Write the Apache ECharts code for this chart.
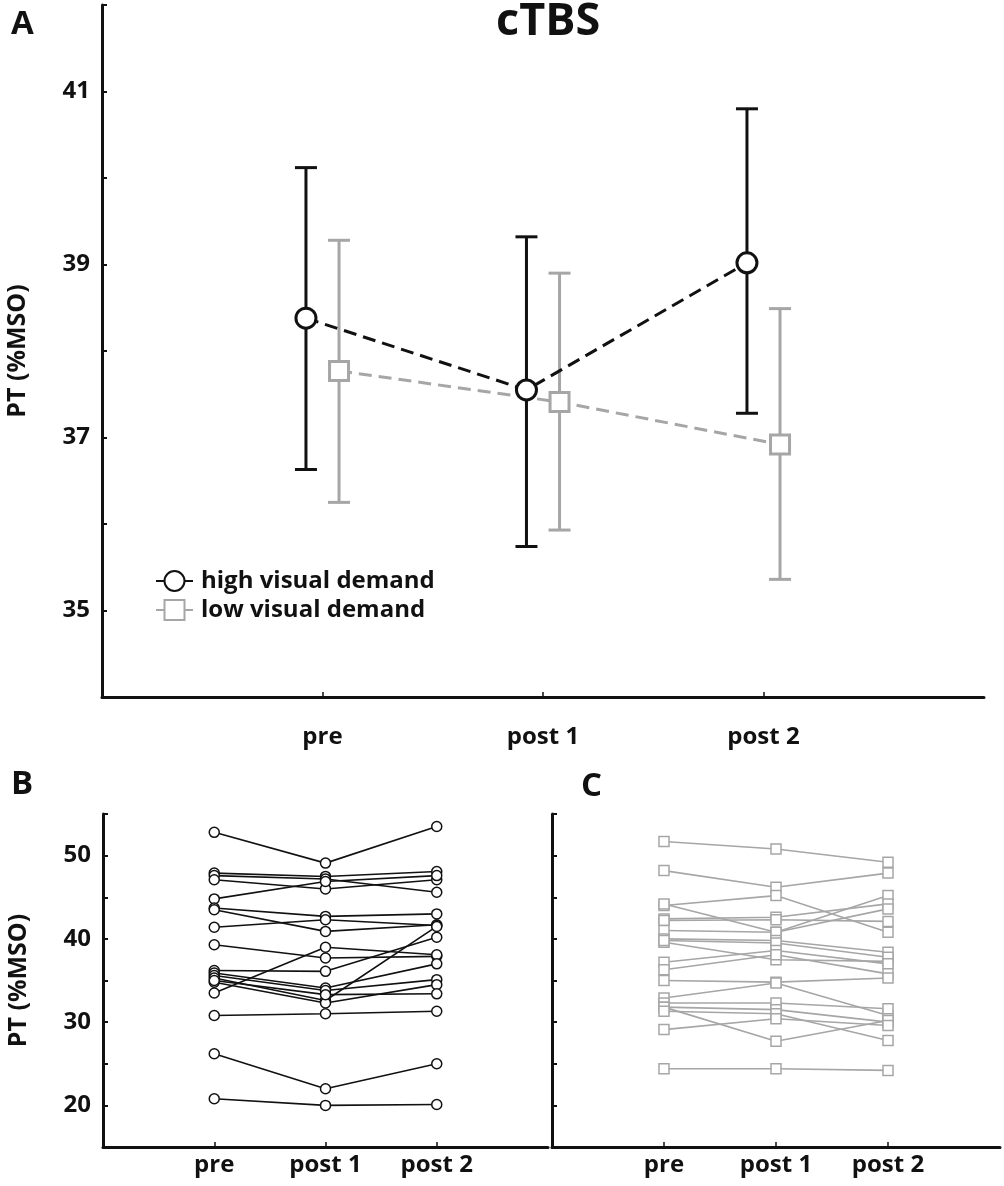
<!DOCTYPE html>
<html>
<head>
<meta charset="utf-8">
<script src="https://cdn.jsdelivr.net/npm/echarts@6/dist/echarts.min.js"></script>
<style>
html,body{margin:0;padding:0;background:#fff;}
#main{width:1004px;height:1186px;}
</style>
</head>
<body>
<div id="main"></div>
<script>
// ---------- data ----------
const categories = ['pre', 'post 1', 'post 2'];
const seriesNames = ['high visual demand', 'low visual demand'];

// Panel A: group means and error-bar ends (PT, %MSO)
const highMean  = [38.38, 37.55, 39.02];
const highUpper = [40.12, 39.32, 40.80];
const highLower = [36.63, 35.74, 37.28];
const lowMean   = [37.77, 37.41, 36.92];
const lowUpper  = [39.28, 38.90, 38.49];
const lowLower  = [36.25, 35.93, 35.36];

const aTickLabels = [35, 37, 39, 41];
const bcTickLabels = [20, 30, 40, 50];

// Panel B: individual subjects, high visual demand
const bPre   = [52.8, 47.9, 47.6, 47.1, 44.8, 43.7, 43.5, 41.4, 39.3, 33.5, 36.2, 35.9, 35.6, 35.3, 34.8, 35.0, 30.8, 26.2, 20.8];
const bPost1 = [49.1, 47.5, 47.2, 46.0, 46.9, 42.7, 40.9, 42.3, 37.7, 39.0, 36.1, 34.1, 33.8, 32.6, 32.3, 33.3, 31.0, 22.0, 20.0];
const bPost2 = [53.5, 48.1, 45.6, 47.1, 47.6, 43.0, 41.7, 41.6, 37.9, 38.1, 40.2, 37.0, 35.1, 41.5, 34.5, 33.4, 31.3, 25.0, 20.1];

// Panel C: individual subjects, low visual demand
const cPre   = [51.7, 48.2, 44.0, 44.2, 42.4, 42.2, 41.0, 40.0, 39.6, 39.8, 37.2, 36.3, 35.0, 32.9, 32.3, 31.8, 31.8, 31.3, 29.1, 24.4];
const cPost1 = [50.8, 46.2, 45.2, 40.8, 42.6, 42.3, 40.8, 39.8, 37.5, 39.5, 38.6, 38.1, 34.8, 34.7, 32.3, 31.5, 27.7, 31.0, 30.4, 24.4];
const cPost2 = [49.2, 47.9, 40.8, 45.2, 44.2, 42.1, 43.6, 38.4, 37.3, 37.8, 37.0, 35.8, 35.3, 30.8, 31.6, 30.0, 30.2, 27.8, 29.6, 24.2];

// ---------- styling ----------
const FONT = '"Open Sans", "Liberation Sans", sans-serif';
const BLACK = '#111111';
const GRAY = '#a6a6a6';
const OFFSET = 0.075;

function errRender(color, width) {
  return function (params, api) {
    const x = api.value(0), lo = api.value(1), hi = api.value(2);
    const p1 = api.coord([x, hi]);
    const p2 = api.coord([x, lo]);
    const half = 11;
    const st = {stroke: color, lineWidth: width};
    return {
      type: 'group',
      children: [
        {type: 'line', shape: {x1: p1[0], y1: p1[1], x2: p2[0], y2: p2[1]}, style: st},
        {type: 'line', shape: {x1: p1[0] - half, y1: p1[1], x2: p1[0] + half, y2: p1[1]}, style: st},
        {type: 'line', shape: {x1: p2[0] - half, y1: p2[1], x2: p2[0] + half, y2: p2[1]}, style: st}
      ]
    };
  };
}

const tickFont = {fontFamily: FONT, fontWeight: 'bold', fontSize: 24, color: BLACK};

function xAxisFor(gi, labelMargin) {
  return {
    gridIndex: gi, type: 'value', min: 0, max: 4, interval: 1,
    axisLine: {show: true, lineStyle: {color: BLACK, width: 3}},
    axisTick: {show: true, inside: true, length: 5, customValues: [1, 2, 3], lineStyle: {color: BLACK, width: 1.5}},
    axisLabel: Object.assign({customValues: [1, 2, 3], margin: labelMargin,
      formatter: v => categories[Math.round(v) - 1] || ''}, tickFont),
    splitLine: {show: false}
  };
}

function yAxisFor(gi, min, max, interval, labels, showLabels, name) {
  return {
    gridIndex: gi, type: 'value', min: min, max: max, interval: interval,
    name: name, nameLocation: 'middle', nameGap: 72, nameRotate: 90,
    nameTextStyle: {fontFamily: FONT, fontWeight: 'bold', fontSize: 25, color: BLACK},
    axisLine: {show: true, lineStyle: {color: BLACK, width: 3}},
    axisTick: {show: true, inside: true, length: 5, lineStyle: {color: BLACK, width: 2}},
    axisLabel: Object.assign({show: showLabels, customValues: labels, margin: 12}, tickFont),
    splitLine: {show: false}
  };
}

const series = [];

// Panel A error bars
series.push({
  type: 'custom', xAxisIndex: 0, yAxisIndex: 0, z: 2,
  renderItem: errRender(GRAY, 3),
  data: categories.map((c, i) => [i + 1 + OFFSET, lowLower[i], lowUpper[i]])
});
series.push({
  type: 'custom', xAxisIndex: 0, yAxisIndex: 0, z: 3,
  renderItem: errRender(BLACK, 3),
  data: categories.map((c, i) => [i + 1 - OFFSET, highLower[i], highUpper[i]])
});
// Panel A mean lines
series.push({
  name: seriesNames[1], type: 'line', xAxisIndex: 0, yAxisIndex: 0, z: 4,
  symbol: 'rect', symbolSize: 19,
  lineStyle: {color: GRAY, width: 3, type: [13, 7]},
  itemStyle: {color: '#ffffff', borderColor: GRAY, borderWidth: 3},
  data: categories.map((c, i) => [i + 1 + OFFSET, lowMean[i]])
});
series.push({
  name: seriesNames[0], type: 'line', xAxisIndex: 0, yAxisIndex: 0, z: 5,
  symbol: 'circle', symbolSize: 20,
  lineStyle: {color: BLACK, width: 3, type: [13, 7]},
  itemStyle: {color: '#ffffff', borderColor: BLACK, borderWidth: 3},
  data: categories.map((c, i) => [i + 1 - OFFSET, highMean[i]])
});

// Panel B subjects
bPre.forEach((v, k) => {
  series.push({
    type: 'line', xAxisIndex: 1, yAxisIndex: 1, z: 3,
    symbol: 'circle', symbolSize: 10,
    lineStyle: {color: BLACK, width: 1.6},
    itemStyle: {color: '#ffffff', borderColor: BLACK, borderWidth: 1.5},
    data: [[1, bPre[k]], [2, bPost1[k]], [3, bPost2[k]]]
  });
});
// Panel C subjects
cPre.forEach((v, k) => {
  series.push({
    type: 'line', xAxisIndex: 2, yAxisIndex: 2, z: 3,
    symbol: 'rect', symbolSize: 10,
    lineStyle: {color: GRAY, width: 1.6},
    itemStyle: {color: '#ffffff', borderColor: GRAY, borderWidth: 1.5},
    data: [[1, cPre[k]], [2, cPost1[k]], [3, cPost2[k]]]
  });
});

const chart = echarts.init(document.getElementById('main'), null, {renderer: 'canvas'});
chart.setOption({
  animation: false,
  backgroundColor: '#ffffff',
  title: {
    text: 'cTBS', left: 491, top: -5,
    textStyle: {fontFamily: FONT, fontWeight: 'bold', fontSize: 45, color: BLACK}
  },
  legend: {
    data: seriesNames, orient: 'vertical', left: 150, top: 564,
    itemWidth: 37, itemHeight: 25, itemGap: 5,
    lineStyle: {type: 'solid'},
    textStyle: {fontFamily: FONT, fontWeight: 'bold', fontSize: 24, color: BLACK, padding: [0, 0, 0, 3]},
    selectedMode: false
  },
  graphic: [
    {type: 'text', left: 11, top: 8, style: {text: 'A', font: 'bold 33px "Open Sans", sans-serif', fill: BLACK}},
    {type: 'text', left: 11, top: 768, style: {text: 'B', font: 'bold 33px "Open Sans", sans-serif', fill: BLACK}},
    {type: 'text', left: 581, top: 770, style: {text: 'C', font: 'bold 33px "Open Sans", sans-serif', fill: BLACK}}
  ],
  grid: [
    {left: 102, top: 5, width: 882, height: 692, outerBoundsMode: 'none', containLabel: false},
    {left: 103, top: 814, width: 445, height: 333, outerBoundsMode: 'none', containLabel: false},
    {left: 552, top: 814, width: 448, height: 333, outerBoundsMode: 'none', containLabel: false}
  ],
  xAxis: [xAxisFor(0, 28), xAxisFor(1, 6), xAxisFor(2, 6)],
  yAxis: [
    yAxisFor(0, 34, 42, 1, aTickLabels, true, 'PT (%MSO)'),
    yAxisFor(1, 15, 55, 5, bcTickLabels, true, 'PT (%MSO)'),
    yAxisFor(2, 15, 55, 5, bcTickLabels, false, '')
  ],
  series: series
});
</script>
</body>
</html>
